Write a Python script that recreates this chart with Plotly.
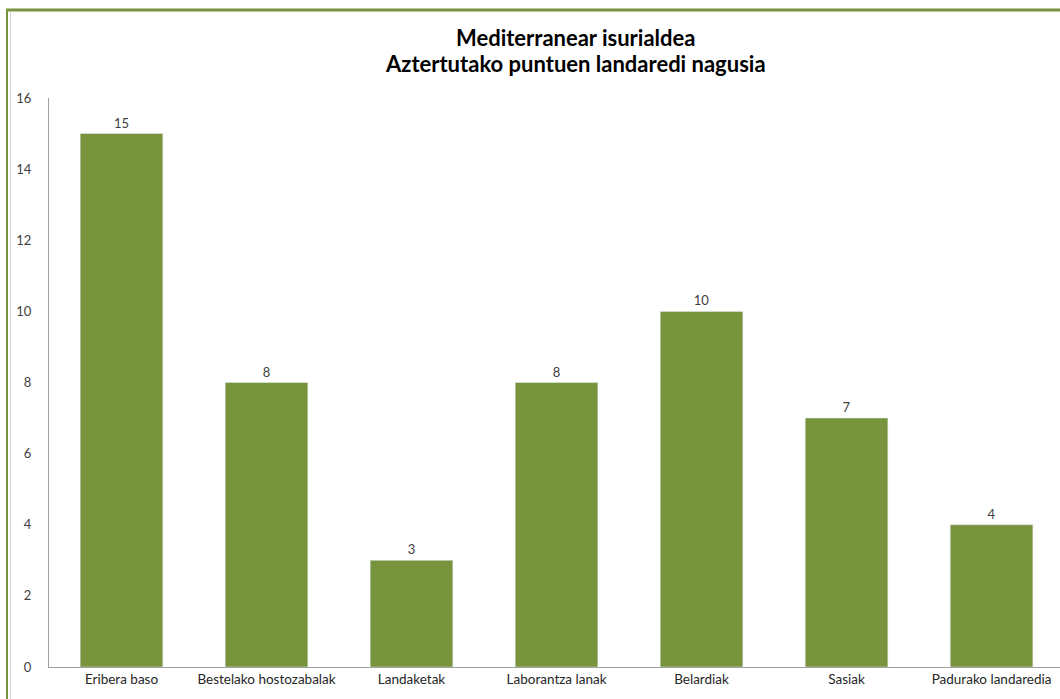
import plotly.graph_objects as go

categories = ["Eribera baso", "Bestelako hostozabalak", "Landaketak", "Laborantza lanak",
              "Belardiak", "Sasiak", "Padurako landaredia"]
values = [15, 8, 3, 8, 10, 7, 4]
y_ticks = [0, 2, 4, 6, 8, 10, 12, 14, 16]
title_lines = ["Mediterranear isurialdea", "Aztertutako puntuen landaredi nagusia"]

GREEN = "#77933C"
FONT = "Lato, Open Sans, sans-serif"

fig = go.Figure(go.Bar(
    x=categories, y=values, marker_color=GREEN, width=0.57,
    text=[str(v) for v in values], textposition="outside",
    textfont=dict(size=13, color="#404040", family=FONT),
    cliponaxis=False,
))

W, H = 1060, 699
L, R, T, B = 49, 0, 98, 32
pw, ph = W - L - R, H - T - B

def px(x):
    return (x - L) / pw

def py(y):
    return (H - B - y) / ph

annotations = [
    dict(text=f"<b>{line}</b>", xref="paper", yref="paper", x=px(575), y=py(yc),
         xanchor="center", yanchor="middle", showarrow=False,
         font=dict(size=22, color="#000000", family=FONT))
    for line, yc in zip(title_lines, [37, 64])
]

fig.update_layout(
    width=W, height=H,
    margin=dict(l=L, r=R, t=T, b=B),
    plot_bgcolor="white", paper_bgcolor="white",
    showlegend=False,
    font=dict(family=FONT, color="#404040", size=13),
    bargap=0.43,
    xaxis=dict(range=[-0.5, 6.472], showgrid=False, showline=True, linecolor="#A0A0A0",
               linewidth=1, ticks="", tickfont=dict(size=13.5, color="#262626")),
    yaxis=dict(range=[0, 16], tickvals=y_ticks, showgrid=False, showline=True,
               linecolor="#A0A0A0", linewidth=1, ticks="", zeroline=False,
               ticklabelstandoff=14, tickfont=dict(size=13, color="#404040")),
    annotations=annotations,
    shapes=[
        dict(type="line", xref="paper", yref="paper", x0=px(6), x1=px(1062), y0=py(10), y1=py(10),
             line=dict(color=GREEN, width=3)),
        dict(type="line", xref="paper", yref="paper", x0=px(7), x1=px(7), y0=py(9), y1=py(701),
             line=dict(color=GREEN, width=2)),
        dict(type="line", xref="paper", yref="paper", x0=px(10.5), x1=px(10.5), y0=py(11), y1=py(701),
             line=dict(color="#D0D0D0", width=1)),
    ],
)

fig.write_html("out.html", config={"displayModeBar": False},
               post_script="document.body.style.margin='0';document.body.style.overflow='hidden';")
